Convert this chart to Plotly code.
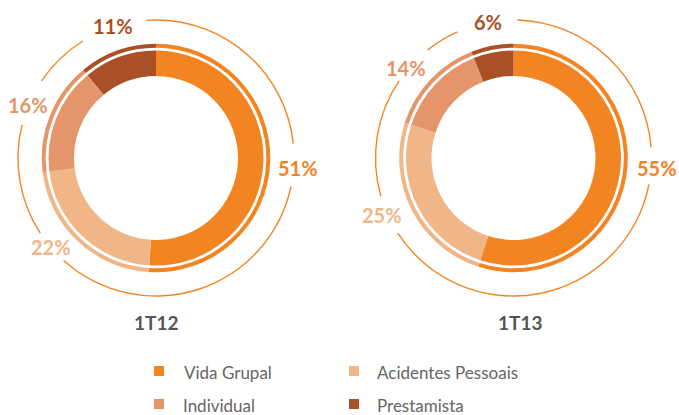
import plotly.graph_objects as go

W, H = 679, 415

# ---- data ----
categories = ["Vida Grupal", "Acidentes Pessoais", "Individual", "Prestamista"]
periods = ["1T12", "1T13"]
values_1t12 = [51, 22, 16, 11]
values_1t13 = [55, 25, 14, 6]
colors = ["#F28522", "#F0B687", "#E5956A", "#AA5026"]

# decorative outer thin circle: alternating spans (degrees, clockwise from 12 o'clock)
arc_spans_1t12 = [84, 18, 120, 15, 47, 20, 24, 28, 4]          # starts with arc
arc_spans_1t13 = [1.6, 83.9, 15.5, 136, 17, 50, 17.5, 14.5, 24]  # starts with gap

# ---- layout geometry (pixels) ----
centers = [(156, 158), (513.5, 158)]
R_IN, R_BAND, R_RING_IN, R_RING_OUT = 82, 107.5, 110.3, 114.3
R_ARC, ARC_W = 138, 1.4
label_pos = [
    [(298, 168), (51, 247), (28, 105), (113, 26)],
    [(657, 168), (382, 215), (406, 68), (488, 22)],
]
title_pos = [(156, 322), (520, 322)]
ORANGE = "#F28522"
TRANSP = "rgba(0,0,0,0)"


def dom(cx, cy, r):
    return dict(x=[(cx - r) / W, (cx + r) / W], y=[1 - (cy + r) / H, 1 - (cy - r) / H])


fig = go.Figure()
all_values = [values_1t12, values_1t13]
all_arcs = [arc_spans_1t12, arc_spans_1t13]
arc_starts_with_arc = [True, False]

annotations = []
for i, vals in enumerate(all_values):
    cx, cy = centers[i]
    common = dict(labels=categories, values=vals, sort=False, direction="clockwise",
                  rotation=0, textinfo="none", showlegend=False,
                  marker=dict(colors=colors, line=dict(width=0)),
                  hovertemplate="%{label}: %{value}%<extra>" + periods[i] + "</extra>")
    fig.add_trace(go.Pie(domain=dom(cx, cy, R_BAND), hole=R_IN / R_BAND, **common))
    fig.add_trace(go.Pie(domain=dom(cx, cy, R_RING_OUT), hole=R_RING_IN / R_RING_OUT, **common))

    spans = all_arcs[i]
    first = arc_starts_with_arc[i]
    arc_cols = [(ORANGE if ((k % 2 == 0) == first) else TRANSP) for k in range(len(spans))]
    ro = R_ARC + ARC_W / 2
    fig.add_trace(go.Pie(labels=[f"arc{i}_{k}" for k in range(len(spans))], values=spans,
                         sort=False, direction="clockwise", rotation=0, textinfo="none",
                         showlegend=False, hoverinfo="skip",
                         marker=dict(colors=arc_cols, line=dict(width=0)),
                         domain=dom(cx, cy, ro), hole=(R_ARC - ARC_W / 2) / ro))

    for j, v in enumerate(vals):
        px, py = label_pos[i][j]
        annotations.append(dict(x=px / W, y=1 - py / H, xref="paper", yref="paper",
                                text=f"<b>{v}%</b>", showarrow=False,
                                xanchor="center", yanchor="middle",
                                font=dict(family="Lato", size=20, color=colors[j])))
    tx, ty = title_pos[i]
    annotations.append(dict(x=tx / W, y=1 - ty / H, xref="paper", yref="paper",
                            text=f"<b>{periods[i]}</b>", showarrow=False,
                            xanchor="center", yanchor="middle",
                            font=dict(family="Lato", size=19, color="#555555")))

# manual 2x2 legend
legend_markers = [(159, 371), (354, 371), (159, 404), (354, 404)]
legend_text_x = [182, 375, 181, 375]
shapes = []
for j, cat in enumerate(categories):
    mx, my = legend_markers[j]
    s = 5
    shapes.append(dict(type="rect", xref="paper", yref="paper",
                       x0=(mx - s) / W, x1=(mx + s) / W, y0=1 - (my + s) / H, y1=1 - (my - s) / H,
                       fillcolor=colors[j], line=dict(width=0)))
    annotations.append(dict(x=legend_text_x[j] / W, y=1 - (my + 1) / H, xref="paper", yref="paper",
                            text=cat, showarrow=False, xanchor="left", yanchor="middle",
                            font=dict(family="Lato", size=17, color="#666666")))

fig.update_layout(width=W, height=H, margin=dict(l=0, r=0, t=0, b=0),
                  paper_bgcolor="white", plot_bgcolor="white",
                  annotations=annotations, shapes=shapes)

fig.write_html("out.html", config={"displayModeBar": False},
               post_script="document.body.style.margin='0';document.body.style.overflow='hidden';")
